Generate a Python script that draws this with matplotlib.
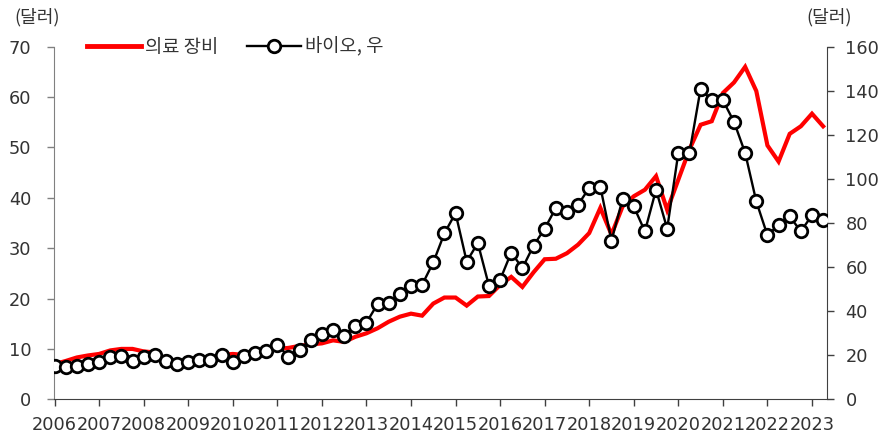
import matplotlib
matplotlib.use("Agg")
import matplotlib.pyplot as plt
from matplotlib.lines import Line2D

plt.rcParams['font.family'] = ['Noto Sans CJK KR', 'DejaVu Sans']

years = list(range(2006, 2024))
year_labels = [str(y) for y in years]

medical = [7.0, 7.6, 8.3, 8.7, 9.0, 9.7, 10.0, 10.0, 9.5, 9.3,
           7.2, 6.6, 7.0, 7.6, 8.0, 8.8, 9.0, 8.8, 9.2, 9.6,
           10.0, 10.2, 10.6, 10.9, 11.1, 11.7, 11.4, 12.4, 13.1, 14.1,
           15.4, 16.4, 17.0, 16.6, 19.0, 20.2, 20.2, 18.6, 20.4, 20.5,
           22.7, 24.3, 22.3, 25.2, 27.8, 27.9, 29.0, 30.7, 33.0, 38.0,
           32.7, 38.3, 40.3, 41.6, 44.3, 37.6, 43.6, 49.6, 54.5, 55.2,
           60.8, 62.9, 66.0, 61.2, 50.4, 47.2, 52.7, 54.2, 56.7, 54.2]

bio = [15.1, 14.8, 15.1, 16.0, 17.1, 19.1, 19.7, 17.5, 19.1, 20.1,
       17.5, 16.0, 17.1, 17.9, 17.9, 20.1, 17.1, 19.7, 20.9, 22.1,
       24.7, 19.4, 22.4, 27.0, 29.5, 31.5, 28.9, 33.3, 34.8, 43.2,
       43.6, 47.9, 51.2, 52.0, 62.1, 75.3, 84.5, 62.5, 70.9, 51.5,
       54.2, 66.6, 59.5, 69.7, 77.4, 86.8, 85.0, 88.3, 95.9, 96.4,
       72.0, 90.9, 87.5, 76.2, 95.1, 77.4, 111.8, 111.8, 140.9, 135.7,
       135.7, 125.9, 111.8, 89.8, 74.4, 79.2, 83.0, 76.2, 83.5, 81.2]

x = [2006 + i * 0.25 for i in range(len(medical))]

fig = plt.figure(figsize=(8.87, 4.38), dpi=100)
ax = fig.add_axes([0.0605, 0.0884, 0.932 - 0.0605, 0.8934 - 0.0884])
ax2 = ax.twinx()

ax.plot(x, medical, color='#ff0000', lw=3.0, solid_joinstyle='miter', zorder=2)
ax2.plot(x, bio, color='black', lw=1.7, marker='o', markersize=9,
         markerfacecolor='white', markeredgecolor='black', markeredgewidth=2.0, zorder=3)

ax.set_xlim(2005.98, 2023.33)
ax.set_ylim(0, 70)
ax2.set_ylim(0, 160)
ax.set_yticks(range(0, 71, 10))
ax2.set_yticks(range(0, 161, 20))
ax.set_xticks(years)
ax.set_xticklabels(year_labels)

tc = '#333333'
num_font = ['DejaVu Sans']
for a in (ax, ax2):
    a.spines['top'].set_visible(False)
    a.tick_params(axis='both', labelsize=12.8, colors=tc, length=5, width=1, direction='out')
    for lab in a.get_xticklabels() + a.get_yticklabels():
        lab.set_family(num_font)
ax.spines['left'].set_color('#808080')
ax.spines['bottom'].set_color('#404040')
ax.spines['right'].set_visible(False)
ax2.spines['left'].set_visible(False)
ax2.spines['bottom'].set_visible(False)
ax2.spines['right'].set_color('#404040')
ax.tick_params(axis='y', colors='#808080', labelcolor=tc, pad=11)
ax.tick_params(axis='x', pad=7, colors='#404040', labelcolor=tc)
ax2.tick_params(axis='y', pad=8.5, colors='#404040', labelcolor=tc)

fig.text(37 / 887, 1 - 17 / 438, '(달러)', ha='center', va='center', fontsize=13, color=tc)
fig.text(829 / 887, 1 - 17 / 438, '(달러)', ha='center', va='center', fontsize=13, color=tc)

handles = [Line2D([], [], color='#ff0000', lw=3.5),
           Line2D([], [], color='black', lw=1.7, marker='o', markersize=9,
                  markerfacecolor='white', markeredgecolor='black', markeredgewidth=2.0)]
fig.legend(handles, ['의료 장비', '바이오, 우'], loc='center left',
           bbox_to_anchor=(87 / 887, 1 - 47 / 438), ncol=2, frameon=False,
           fontsize=13.5, handlelength=2.9, handletextpad=0.2, columnspacing=1.5,
           borderpad=0, borderaxespad=0, labelcolor=tc)

fig.savefig('out.png', dpi=100)
